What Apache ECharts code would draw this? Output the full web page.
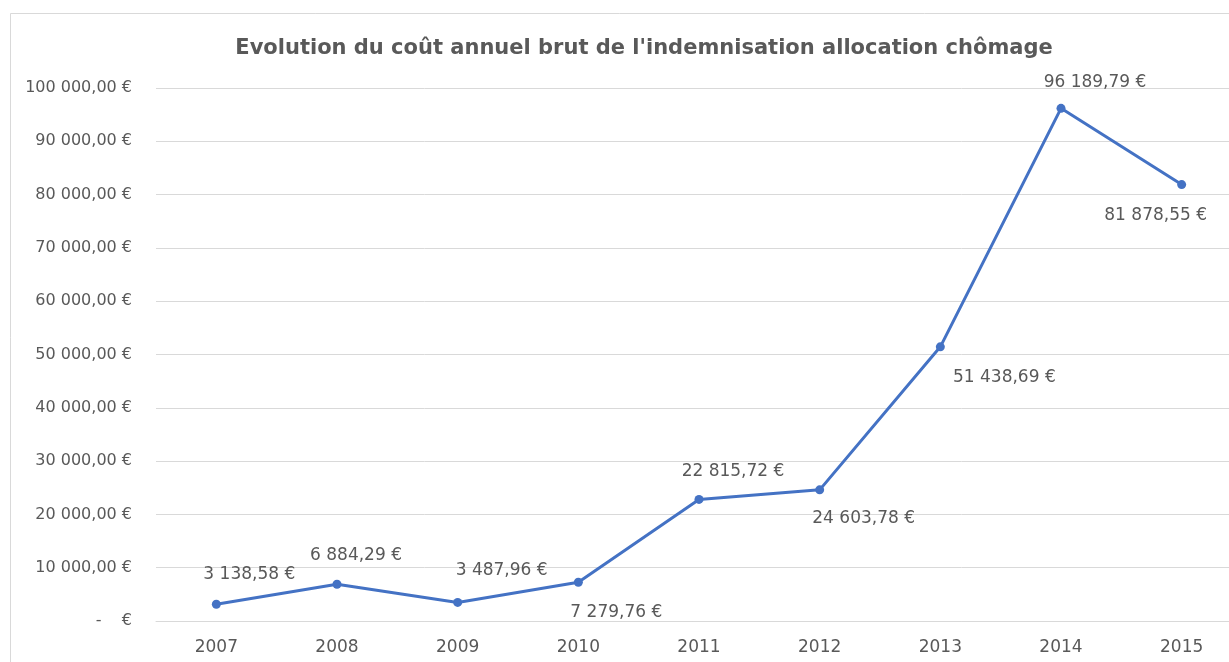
<!DOCTYPE html>
<html>
<head>
<meta charset="utf-8">
<title>Evolution du coût annuel brut</title>
<script src="https://cdn.jsdelivr.net/npm/echarts@6/dist/echarts.min.js"></script>
<style>
  html, body { margin: 0; padding: 0; background: #fff; }
  #chart { width: 1229px; height: 662px; }
</style>
</head>
<body>
<div id="chart"></div>
<script>
// données
var years = ['2007', '2008', '2009', '2010', '2011', '2012', '2013', '2014', '2015'];
var cost = [3138.58, 6884.29, 3487.96, 7279.76, 22815.72, 24603.78, 51438.69, 96189.79, 81878.55];
var yTicks = [0, 10000, 20000, 30000, 40000, 50000, 60000, 70000, 80000, 90000, 100000];

// décalage des étiquettes (comme dans le classeur)
var labelShift = [[33, -30], [19, -29], [44, -32], [38, 30], [34, -28], [44, 29], [64, 31], [34, -26], [-26, 31]];

var txtColor = '#595959';
var blue = '#4472C4';
var police = 'DejaVu Sans';

function euro(v){
  if (v === 0) return '-    €';
  var s = v.toFixed(2).split('.');
  var ent = s[0].replace(/\B(?=(\d{3})+(?!\d))/g, ' ');
  return ent + ',' + s[1] + ' €';
}

var pts = cost.map(function(v, i){
  return {
    value: v,
    label: { offset: labelShift[i] }
  };
});

var myChart = echarts.init(document.getElementById('chart'));

option = {
  backgroundColor: '#fff',
  animation: false,
  textStyle: { fontFamily: police },
  title: {
    text: "Evolution du coût annuel brut de l'indemnisation allocation chômage",
    left: 639,
    textAlign: 'center',
    top: 33,
    textStyle: {
      color: txtColor,
      fontFamily: police,
      fontWeight: 'bold',
      fontSize: 21
    }
  },
  // bord du cadre (haut et gauche seulement, le reste sort de l'image)
  graphic: [{
    type: 'line',
    shape: { x1: 10.5, y1: 13.5, x2: 1229, y2: 13.5 },
    style: { stroke: '#d9d9d9', lineWidth: 1 },
    silent: true
  }, {
    type: 'line',
    shape: { x1: 10.5, y1: 13.5, x2: 10.5, y2: 662 },
    style: { stroke: '#d9d9d9', lineWidth: 1 },
    silent: true
  }],
  grid: {
    left: 156,
    right: -13,
    top: 88,
    bottom: 41,
    containLabel: false,
    outerBoundsMode: 'none'
  },
  xAxis: {
    type: 'category',
    boundaryGap: true,
    data: years,
    axisLine: { show: true, lineStyle: { color: '#d9d9d9' } },
    axisTick: { show: false },
    axisLabel: { color: txtColor, fontSize: 17, margin: 18 }
  },
  yAxis: {
    type: 'value',
    min: yTicks[0],
    max: yTicks[yTicks.length - 1],
    interval: yTicks[1] - yTicks[0],
    axisLine: { show: false },
    axisTick: { show: false },
    splitLine: { lineStyle: { color: '#d9d9d9' } },
    axisLabel: {
      color: txtColor,
      fontSize: 16,
      margin: 24,
      formatter: function(v){ return euro(v); }
    }
  },
  series: [{
    name: 'Coût',
    type: 'line',
    data: pts,
    symbol: 'circle',
    symbolSize: 9,
    lineStyle: { color: blue, width: 3 },
    itemStyle: { color: blue },
    label: {
      show: true,
      position: 'inside',
      align: 'center',
      verticalAlign: 'middle',
      color: txtColor,
      fontSize: 17,
      formatter: function(p){ return euro(p.value); }
    }
  }]
};
myChart.setOption(option);
</script>
</body>
</html>
